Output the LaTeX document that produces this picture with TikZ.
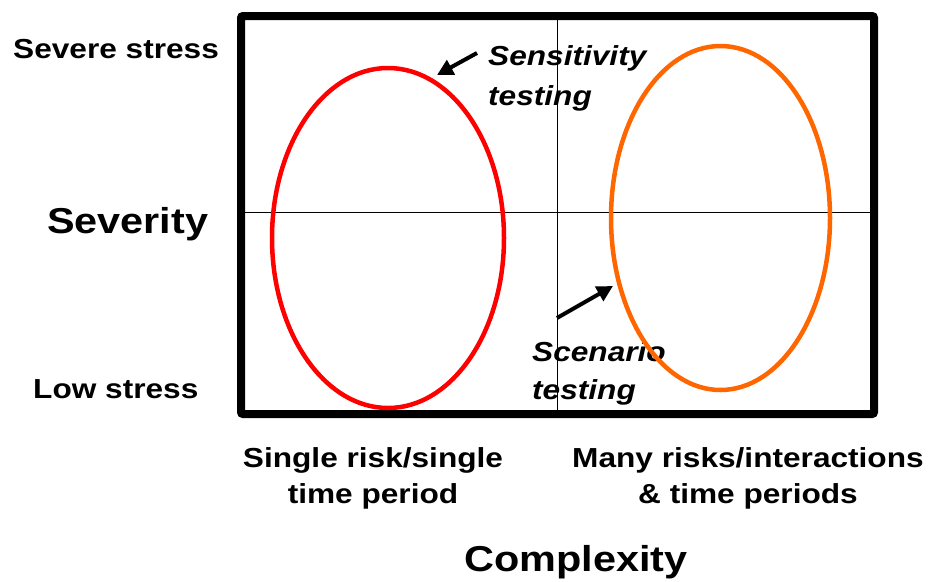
\documentclass[tikz,border=0pt]{standalone}
\usepackage{fontspec}
\setmainfont{Liberation Sans}[FakeStretch=1.15]
\usetikzlibrary{arrows.meta}
\tikzset{
  lbl/.style={font=\fontsize{27.5}{27.5}\selectfont\bfseries, inner sep=0pt, anchor=base west},
  big/.style={font=\fontsize{36}{36}\selectfont\bfseries, inner sep=0pt, anchor=base},
  ilbl/.style={font=\fontsize{27.5}{27.5}\selectfont\bfseries\itshape, inner sep=0pt, anchor=base west},
  clbl/.style={font=\fontsize{27.5}{27.5}\selectfont\bfseries, inner sep=0pt, anchor=base},
  frame/.style={line width=8pt, rounded corners=2pt},
  axis/.style={line width=1pt},
  oval/.style={line width=4.5pt},
  pointer/.style={line width=4pt, -{Triangle[length=16pt,width=16pt]}}
}
\begin{document}
\begin{tikzpicture}[x=1pt,y=-1pt]
\useasboundingbox (0,0) rectangle (929,581);
% labels
\node[lbl] (severe) at (13,58) {Severe stress};
\node[lbl] (low) at (33,398) {Low stress};
\node[big, anchor=base west] (severity) at (47,233) {Severity};
\node[ilbl] (sens1) at (488,65) {Sensitivity};
\node[ilbl] (sens2) at (488,105) {testing};
\node[ilbl] (scen1) at (532,361) {Scenario};
\node[ilbl] (scen2) at (532,399) {testing};
\node[clbl] (single1) at (373,467) {Single risk/single};
\node[clbl] (single2) at (373,503) {time period};
\node[clbl] (many1) at (748,467) {Many risks/interactions};
\node[clbl] (many2) at (748,503) {\& time periods};
\node[big] (complexity) at (576,571) {Complexity};
% axes
\coordinate (vtop) at (557,16);
\coordinate (vbot) at (557,414);
\coordinate (hl) at (241,212);
\coordinate (hr) at (874,212);
\draw[axis] (vtop) -- (vbot);
\draw[axis] (hl) -- (hr);
% frame
\draw[frame] (241,16) rectangle (874,414);
% ovals
\draw[oval, red] (388,238) ellipse [x radius=116, y radius=170];
\definecolor{myorange}{RGB}{255,102,0}
\draw[oval, myorange] (720.5,218) ellipse [x radius=109.5, y radius=172];
% pointers
\coordinate (a1s) at (477,53);
\coordinate (a1e) at (437,75);
\coordinate (a2s) at (557,318);
\coordinate (a2e) at (613,286);
\draw[pointer] (a1s) -- (a1e);
\draw[pointer] (a2s) -- (a2e);
\end{tikzpicture}
\end{document}
